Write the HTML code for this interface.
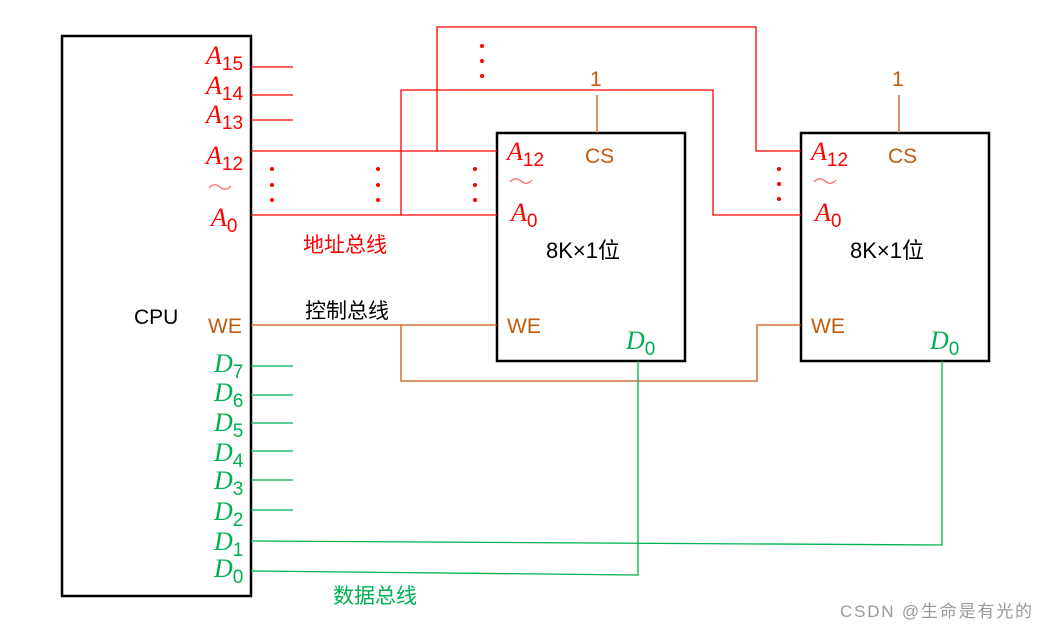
<!DOCTYPE html>
<html><head><meta charset="utf-8"><style>
html,body{margin:0;padding:0;background:#fff;}
svg{display:block;}
.m{font-family:"Liberation Serif",serif;font-style:italic;}
.s{font-family:"Liberation Sans","Noto Sans CJK SC",sans-serif;}
</style></head><body>
<svg width="1046" height="630" viewBox="0 0 1046 630" xmlns="http://www.w3.org/2000/svg">
<g fill="none" stroke="#000" stroke-width="2.5">
<rect x="62" y="36" width="189" height="560"/>
<rect x="497" y="133" width="188" height="228"/>
<rect x="801" y="133" width="188" height="228"/>
</g>
<g fill="none" stroke="#f00" stroke-width="1.3">
<line x1="251" y1="67" x2="293" y2="67"/>
<line x1="251" y1="95" x2="293" y2="95"/>
<line x1="251" y1="120" x2="293" y2="120"/>
<line x1="251" y1="151" x2="497" y2="151"/>
<line x1="251" y1="215" x2="497" y2="215"/>
<polyline points="437,151 437,27 756,27 756,151 801,151"/>
<polyline points="401,215 401,90 713,90 713,215 801,215"/>
</g>
<g fill="#f00">
<circle cx="272" cy="169" r="2"/><circle cx="272" cy="185" r="2"/><circle cx="272" cy="200" r="2"/>
<circle cx="378" cy="169" r="2"/><circle cx="378" cy="185" r="2"/><circle cx="378" cy="200" r="2"/>
<circle cx="475" cy="169" r="2"/><circle cx="475" cy="185" r="2"/><circle cx="475" cy="200" r="2"/>
<circle cx="482" cy="46" r="2"/><circle cx="482" cy="61" r="2"/><circle cx="482" cy="76" r="2"/>
<circle cx="779" cy="169" r="2"/><circle cx="779" cy="184" r="2"/><circle cx="779" cy="199" r="2"/>
</g>
<g fill="none" stroke="#f66" stroke-width="1.2">
<path d="M209,188 q5,-6 11,-1 t11,-1"/>
<path d="M510,182 q5,-6 11,-1 t11,-1"/>
<path d="M814,182 q5,-6 11,-1 t11,-1"/>
</g>
<g fill="none" stroke="#c55a11" stroke-width="1.3">
<line x1="597" y1="95" x2="597" y2="133"/>
<line x1="899" y1="95" x2="899" y2="133"/>
<line x1="251" y1="325" x2="497" y2="325"/>
<polyline points="401,325 401,381 757,381 757,325 801,325"/>
</g>
<g fill="none" stroke="#00b050" stroke-width="1.3">
<line x1="251" y1="366" x2="293" y2="366"/>
<line x1="251" y1="395" x2="293" y2="395"/>
<line x1="251" y1="423" x2="293" y2="423"/>
<line x1="251" y1="451" x2="293" y2="451"/>
<line x1="251" y1="480" x2="293" y2="480"/>
<line x1="251" y1="510" x2="293" y2="510"/>
<polyline points="251,541 942,545 942,361"/>
<polyline points="251,571 638,575 638,361"/>
</g>
<g class="m" fill="#f00" font-size="26">
<text x="206" y="64">A<tspan class="s" font-size="19" font-style="normal" dy="6">15</tspan></text>
<text x="206" y="94">A<tspan class="s" font-size="19" font-style="normal" dy="6">14</tspan></text>
<text x="206" y="123">A<tspan class="s" font-size="19" font-style="normal" dy="6">13</tspan></text>
<text x="206" y="164">A<tspan class="s" font-size="19" font-style="normal" dy="6">12</tspan></text>
<text x="211" y="226">A<tspan class="s" font-size="19" font-style="normal" dy="6">0</tspan></text>
<text x="507" y="160">A<tspan class="s" font-size="19" font-style="normal" dy="6">12</tspan></text>
<text x="511" y="221">A<tspan class="s" font-size="19" font-style="normal" dy="6">0</tspan></text>
<text x="811" y="160">A<tspan class="s" font-size="19" font-style="normal" dy="6">12</tspan></text>
<text x="815" y="221">A<tspan class="s" font-size="19" font-style="normal" dy="6">0</tspan></text>
</g>
<g class="m" fill="#00b050" font-size="26">
<text x="214" y="372">D<tspan class="s" font-size="19" font-style="normal" dy="6">7</tspan></text>
<text x="214" y="401">D<tspan class="s" font-size="19" font-style="normal" dy="6">6</tspan></text>
<text x="214" y="431">D<tspan class="s" font-size="19" font-style="normal" dy="6">5</tspan></text>
<text x="214" y="461">D<tspan class="s" font-size="19" font-style="normal" dy="6">4</tspan></text>
<text x="214" y="489">D<tspan class="s" font-size="19" font-style="normal" dy="6">3</tspan></text>
<text x="214" y="520">D<tspan class="s" font-size="19" font-style="normal" dy="6">2</tspan></text>
<text x="214" y="550">D<tspan class="s" font-size="19" font-style="normal" dy="6">1</tspan></text>
<text x="214" y="577">D<tspan class="s" font-size="19" font-style="normal" dy="6">0</tspan></text>
<text x="626" y="349">D<tspan class="s" font-size="19" font-style="normal" dy="6">0</tspan></text>
<text x="930" y="349">D<tspan class="s" font-size="19" font-style="normal" dy="6">0</tspan></text>
</g>
<g class="s" fill="#c55a11" font-size="21">
<text x="208" y="333">WE</text>
<text x="507" y="333">WE</text>
<text x="811" y="333">WE</text>
<text x="585" y="163">CS</text>
<text x="888" y="163">CS</text>
<text x="590" y="86">1</text>
<text x="892" y="86">1</text>
</g>
<g class="s" font-size="21" fill="#000">
<text x="134" y="324">CPU</text>
<text x="546" y="258" font-size="22">8K×1位</text>
<text x="850" y="258" font-size="22">8K×1位</text>
<text x="305" y="318">控制总线</text>
</g>
<text class="s" x="303" y="252" font-size="21" fill="#f00">地址总线</text>
<text class="s" x="333" y="603" font-size="21" fill="#00b050">数据总线</text>
<text class="s" x="840" y="617" font-size="17" fill="#999" textLength="192">CSDN @生命是有光的</text>
</svg>
</body></html>
